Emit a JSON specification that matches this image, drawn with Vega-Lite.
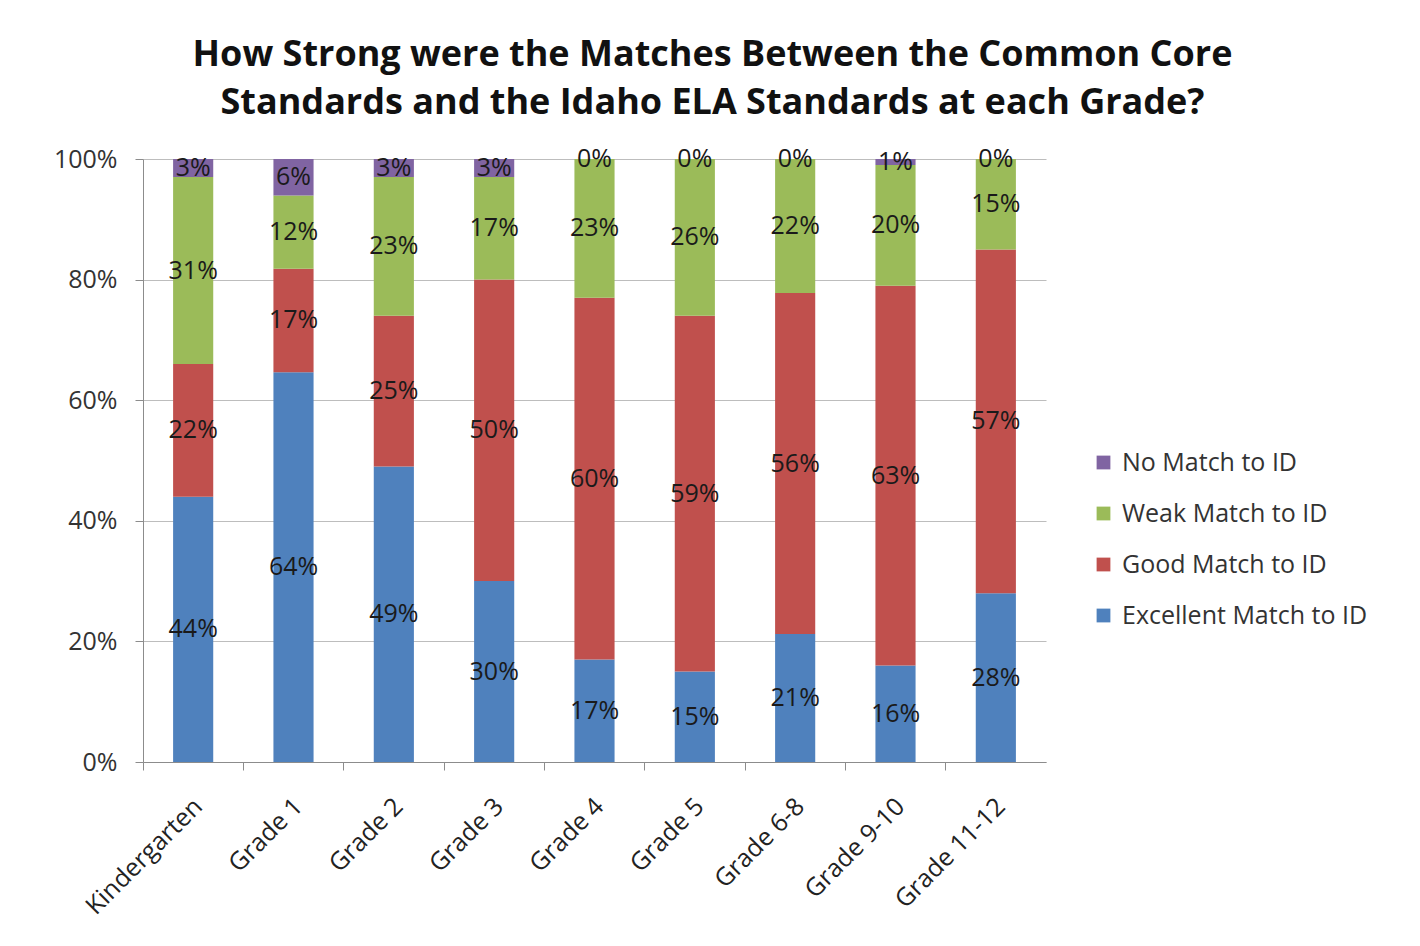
{
  "$schema": "https://vega.github.io/schema/vega-lite/v6.json",
  "width": 903,
  "height": 603,
  "autosize": {"type": "none"},
  "padding": {"left": 143, "top": 159, "right": 374, "bottom": 184},
  "background": "white",
  "config": {"view": {"stroke": null}},
  "title": {
    "text": ["How Strong were the Matches Between the Common Core", "Standards and the Idaho ELA Standards at each Grade?"],
    "font": "Open Sans",
    "fontSize": 36,
    "fontWeight": "bold",
    "color": "#111111",
    "lineHeight": 48,
    "anchor": "middle",
    "dx": 118,
    "offset": 25
  },
  "data": {
    "values": [
      {"grade": "Kindergarten", "cat": "Excellent Match to ID", "rank": 1, "pct": 0.44},
      {"grade": "Kindergarten", "cat": "Good Match to ID", "rank": 2, "pct": 0.22},
      {"grade": "Kindergarten", "cat": "Weak Match to ID", "rank": 3, "pct": 0.31},
      {"grade": "Kindergarten", "cat": "No Match to ID", "rank": 4, "pct": 0.03},
      {"grade": "Grade 1", "cat": "Excellent Match to ID", "rank": 1, "pct": 0.64},
      {"grade": "Grade 1", "cat": "Good Match to ID", "rank": 2, "pct": 0.17},
      {"grade": "Grade 1", "cat": "Weak Match to ID", "rank": 3, "pct": 0.12},
      {"grade": "Grade 1", "cat": "No Match to ID", "rank": 4, "pct": 0.06},
      {"grade": "Grade 2", "cat": "Excellent Match to ID", "rank": 1, "pct": 0.49},
      {"grade": "Grade 2", "cat": "Good Match to ID", "rank": 2, "pct": 0.25},
      {"grade": "Grade 2", "cat": "Weak Match to ID", "rank": 3, "pct": 0.23},
      {"grade": "Grade 2", "cat": "No Match to ID", "rank": 4, "pct": 0.03},
      {"grade": "Grade 3", "cat": "Excellent Match to ID", "rank": 1, "pct": 0.30},
      {"grade": "Grade 3", "cat": "Good Match to ID", "rank": 2, "pct": 0.50},
      {"grade": "Grade 3", "cat": "Weak Match to ID", "rank": 3, "pct": 0.17},
      {"grade": "Grade 3", "cat": "No Match to ID", "rank": 4, "pct": 0.03},
      {"grade": "Grade 4", "cat": "Excellent Match to ID", "rank": 1, "pct": 0.17},
      {"grade": "Grade 4", "cat": "Good Match to ID", "rank": 2, "pct": 0.60},
      {"grade": "Grade 4", "cat": "Weak Match to ID", "rank": 3, "pct": 0.23},
      {"grade": "Grade 4", "cat": "No Match to ID", "rank": 4, "pct": 0.0},
      {"grade": "Grade 5", "cat": "Excellent Match to ID", "rank": 1, "pct": 0.15},
      {"grade": "Grade 5", "cat": "Good Match to ID", "rank": 2, "pct": 0.59},
      {"grade": "Grade 5", "cat": "Weak Match to ID", "rank": 3, "pct": 0.26},
      {"grade": "Grade 5", "cat": "No Match to ID", "rank": 4, "pct": 0.0},
      {"grade": "Grade 6-8", "cat": "Excellent Match to ID", "rank": 1, "pct": 0.21},
      {"grade": "Grade 6-8", "cat": "Good Match to ID", "rank": 2, "pct": 0.56},
      {"grade": "Grade 6-8", "cat": "Weak Match to ID", "rank": 3, "pct": 0.22},
      {"grade": "Grade 6-8", "cat": "No Match to ID", "rank": 4, "pct": 0.0},
      {"grade": "Grade 9-10", "cat": "Excellent Match to ID", "rank": 1, "pct": 0.16},
      {"grade": "Grade 9-10", "cat": "Good Match to ID", "rank": 2, "pct": 0.63},
      {"grade": "Grade 9-10", "cat": "Weak Match to ID", "rank": 3, "pct": 0.20},
      {"grade": "Grade 9-10", "cat": "No Match to ID", "rank": 4, "pct": 0.01},
      {"grade": "Grade 11-12", "cat": "Excellent Match to ID", "rank": 1, "pct": 0.28},
      {"grade": "Grade 11-12", "cat": "Good Match to ID", "rank": 2, "pct": 0.57},
      {"grade": "Grade 11-12", "cat": "Weak Match to ID", "rank": 3, "pct": 0.15},
      {"grade": "Grade 11-12", "cat": "No Match to ID", "rank": 4, "pct": 0.0}
    ]
  },
  "transform": [
    {"stack": "pct", "groupby": ["grade"], "sort": [{"field": "rank", "order": "ascending"}], "offset": "normalize", "as": ["y0", "y1"]}
  ],
  "encoding": {
    "x": {
      "field": "grade",
      "type": "nominal",
      "sort": null,
      "scale": {"paddingInner": 0.6, "paddingOuter": 0.3},
      "axis": {
        "title": null,
        "labelAngle": -45,
        "labelAlign": "right",
        "labelBaseline": "middle",
        "labelFont": "Open Sans",
        "labelFontSize": 25,
        "labelColor": "#222222",
        "labelPadding": 32,
        "labelOffset": 5,
        "bandPosition": -0.75,
        "ticks": true,
        "tickSize": 8,
        "tickColor": "#8c8c8c",
        "domainColor": "#8c8c8c",
        "grid": false
      }
    }
  },
  "layer": [
    {
      "mark": {"type": "bar"},
      "encoding": {
        "y": {
          "field": "y0",
          "type": "quantitative",
          "scale": {"domain": [0, 1]},
          "axis": {
            "title": null,
            "format": ".0%",
            "values": [0, 0.2, 0.4, 0.6, 0.8, 1],
            "labelFont": "Open Sans",
            "labelFontSize": 25,
            "labelColor": "#333333",
            "labelPadding": 18,
            "tickSize": 8,
            "tickColor": "#8c8c8c",
            "domainColor": "#8c8c8c",
            "grid": true,
            "gridColor": "#bdbdbd",
            "gridWidth": 1.2
          }
        },
        "y2": {"field": "y1"},
        "color": {
          "field": "cat",
          "type": "nominal",
          "scale": {
            "domain": ["No Match to ID", "Weak Match to ID", "Good Match to ID", "Excellent Match to ID"],
            "range": ["#8064A2", "#9BBB59", "#C0504D", "#4F81BD"]
          },
          "legend": {
            "title": null,
            "orient": "none",
            "legendX": 948,
            "legendY": 291,
            "symbolType": "square",
            "symbolSize": 190,
            "symbolStrokeWidth": 0,
            "labelFont": "Open Sans",
            "labelFontSize": 25,
            "labelColor": "#333333",
            "labelOffset": 6,
            "labelLimit": 400,
            "rowPadding": 25
          }
        }
      }
    },
    {
      "transform": [
        {"fold": ["y0", "y1"], "as": ["edge_key", "edge"]}
      ],
      "mark": {"type": "text", "font": "Open Sans", "fontSize": 25, "color": "#1a1a1a", "baseline": "middle", "align": "center"},
      "encoding": {
        "y": {
          "field": "edge",
          "aggregate": "mean",
          "type": "quantitative",
          "axis": {
            "title": null,
            "format": ".0%",
            "values": [0, 0.2, 0.4, 0.6, 0.8, 1],
            "labelFont": "Open Sans",
            "labelFontSize": 25,
            "labelColor": "#333333",
            "labelPadding": 18,
            "tickSize": 8,
            "tickColor": "#8c8c8c",
            "domainColor": "#8c8c8c",
            "grid": true,
            "gridColor": "#bdbdbd",
            "gridWidth": 1.2
          }
        },
        "detail": {"field": "cat", "type": "nominal"},
        "text": {"field": "pct", "type": "quantitative", "format": ".0%"}
      }
    }
  ]
}
